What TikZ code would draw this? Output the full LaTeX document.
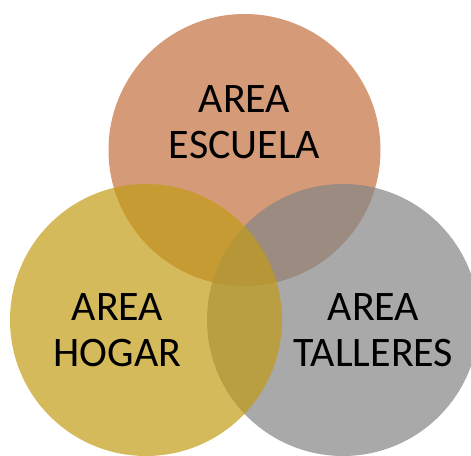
\documentclass[tikz,border=0pt]{standalone}
\usepackage{fontspec}
\setmainfont{Carlito}
\usepackage{tikz}
\usetikzlibrary{positioning, calc}

\definecolor{escuelacol}{RGB}{195,111,62}
\definecolor{talleruscol}{RGB}{132,132,132}
\definecolor{hogarcol}{RGB}{194,156,22}

\begin{document}
\begin{tikzpicture}[
    x=1pt, y=1pt,
    area/.style={circle, minimum size=272pt, inner sep=0pt, fill opacity=0.7},
    areatext/.style={align=center, inner sep=0pt, font=\fontsize{42}{46}\selectfont}
]

    \useasboundingbox (0,0) rectangle (471,455);

    % Circles (orange, gray, gold)
    \node[area, fill=escuelacol] (escuela) at (244.5,305) {};
    \node[area, fill=talleruscol] (talleres) at (343,135) {};
    \node[area, fill=hogarcol] (hogar) at (146,135) {};

    % Labels
    \node[areatext] (escuelatxt) at ([yshift=27.5pt]escuela.center) {AREA\\ESCUELA};
    \node[areatext] (hogartxt) at ([xshift=-28.5pt, yshift=-10.5pt]hogar.center) {AREA\\HOGAR};
    \node[areatext] (tallerestxt) at ([xshift=30.5pt, yshift=-10.5pt]talleres.center) {AREA\\TALLERES};

\end{tikzpicture}
\end{document}
